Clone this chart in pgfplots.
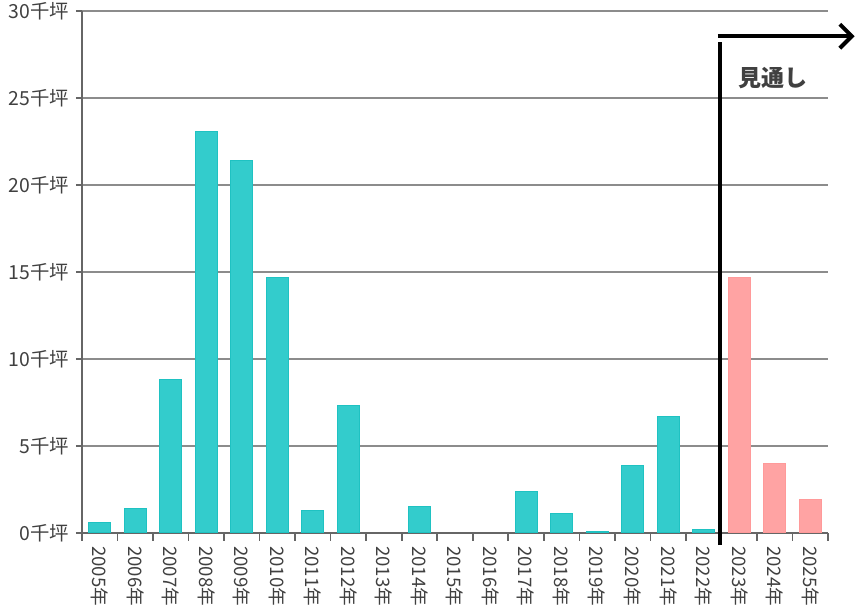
\documentclass[border=0pt]{standalone}
\usepackage{pgfplots}
\pgfplotsset{compat=1.18}
\usetikzlibrary{arrows.meta}
\usepackage{fontspec}
\setmainfont{Noto Sans CJK JP}
\definecolor{teal1}{HTML}{33CCCC}
\definecolor{teal2}{HTML}{1FC2C2}
\definecolor{pink1}{HTML}{FFA3A3}
\definecolor{pink2}{HTML}{FF9A9A}
\definecolor{txt}{HTML}{404040}
\begin{document}
\begin{tikzpicture}[x=1pt,y=1pt]
\begin{axis}[
  at={(0,0)}, anchor=south west,
  scale only axis, width=373pt, height=261pt,
  xmin=-0.5, xmax=20.5, ymin=0, ymax=30,
  axis x line=bottom, axis y line=left,
  axis line style={draw=black!60, line width=0.9pt, -},
  ytick={0,5,...,30},
  yticklabel={\pgfmathprintnumber{\tick}千坪},
  yticklabel style={font=\fontsize{9.7}{10}\selectfont, text=txt},
  /pgf/number format/assume math mode=true,
  ymajorgrids, grid style={draw=black!45, line width=0.6pt},
  xtick={0,...,20},
  xticklabels={2005年,2006年,2007年,2008年,2009年,2010年,2011年,2012年,2013年,2014年,2015年,2016年,2017年,2018年,2019年,2020年,2021年,2022年,2023年,2024年,2025年},
  xticklabel style={rotate=-90, anchor=west, font=\fontsize{9.3}{9.5}\selectfont, text=txt, xshift=0pt},
  minor xtick={-0.5,0.5,...,20.5},
  tick align=outside,
  major tick length=3pt,
  minor tick length=4pt,
  every tick/.style={draw=black!60, line width=0.8pt},
  major x tick style={draw=none},
  ybar, bar width=11pt, bar shift=0pt,
  clip=false,
]
\addplot[fill=teal1, draw=teal2, line width=0.5pt] coordinates {
(0,0.6) (1,1.4) (2,8.8) (3,23.1) (4,21.4) (5,14.7) (6,1.3) (7,7.3) (9,1.5)
(12,2.4) (13,1.1) (14,0.1) (15,3.9) (16,6.7) (17,0.2)};
\addplot[fill=pink1, draw=pink2, line width=0.5pt] coordinates {
(18,14.7) (19,4.0) (20,1.95)};
\draw[black, line width=2pt] (axis cs:17.45,-0.7) -- (axis cs:17.45,28.2);
\draw[black, line width=2pt, -{Straight Barb[length=6pt,width=12pt,line width=2pt]}] (axis cs:17.4,28.55) -- (axis cs:21.25,28.55);
\node[font=\fontsize{11.5}{12}\selectfont\bfseries, text=txt] at (axis cs:18.95,26.15) {見通し};
\end{axis}
\pgfresetboundingbox
\path[use as bounding box] (-41pt,-37.5pt) rectangle (388pt,266.5pt);
\end{tikzpicture}
\end{document}
